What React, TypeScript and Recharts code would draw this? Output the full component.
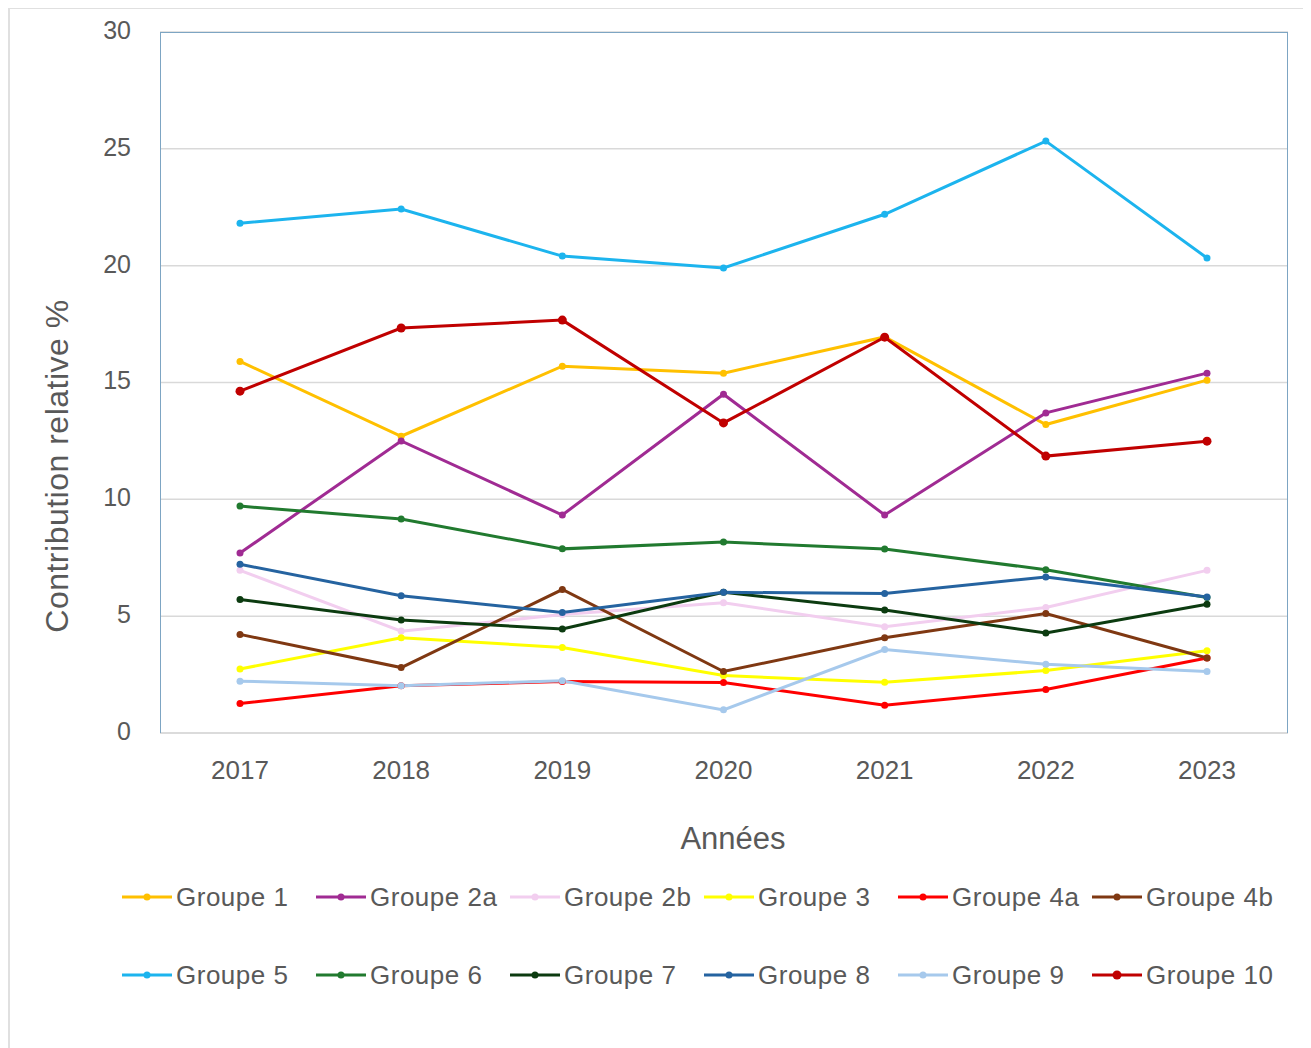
import React from "react";
import { LineChart, Line, XAxis, YAxis, CartesianGrid } from "recharts";

// values, one array per group
const years = ["2017", "2018", "2019", "2020", "2021", "2022", "2023"];
const groupe1 = [15.9, 12.7, 15.7, 15.4, 16.95, 13.2, 15.1];
const groupe2a = [7.7, 12.5, 9.33, 14.5, 9.33, 13.7, 15.4];
const groupe2b = [6.96, 4.36, 5.07, 5.57, 4.55, 5.37, 6.96];
const groupe3 = [2.74, 4.08, 3.66, 2.46, 2.17, 2.67, 3.52];
const groupe4a = [1.26, 2.02, 2.2, 2.16, 1.19, 1.86, 3.21];
const groupe4b = [4.22, 2.8, 6.14, 2.63, 4.08, 5.11, 3.21];
const groupe5 = [21.82, 22.42, 20.41, 19.9, 22.2, 25.33, 20.33];
const groupe6 = [9.71, 9.16, 7.88, 8.17, 7.87, 6.99, 5.8];
const groupe7 = [5.71, 4.84, 4.45, 6.02, 5.26, 4.28, 5.51];
const groupe8 = [7.22, 5.87, 5.16, 6.02, 5.97, 6.68, 5.82];
const groupe9 = [2.22, 2.02, 2.24, 0.99, 3.57, 2.94, 2.63];
const groupe10 = [14.63, 17.33, 17.67, 13.27, 16.94, 11.85, 12.49];
const yTicks = [0, 5, 10, 15, 20, 25, 30];

const series = [
  { key: "g1", name: "Groupe 1", values: groupe1 },
  { key: "g2a", name: "Groupe 2a", values: groupe2a },
  { key: "g2b", name: "Groupe 2b", values: groupe2b },
  { key: "g3", name: "Groupe 3", values: groupe3 },
  { key: "g4a", name: "Groupe 4a", values: groupe4a },
  { key: "g4b", name: "Groupe 4b", values: groupe4b },
  { key: "g5", name: "Groupe 5", values: groupe5 },
  { key: "g6", name: "Groupe 6", values: groupe6 },
  { key: "g7", name: "Groupe 7", values: groupe7 },
  { key: "g8", name: "Groupe 8", values: groupe8 },
  { key: "g9", name: "Groupe 9", values: groupe9 },
  { key: "g10", name: "Groupe 10", values: groupe10 },
];

const colors: Record<string, string> = {
  g1: "#FFC000",
  g2a: "#A02B93",
  g2b: "#F2CEEF",
  g3: "#FFFF00",
  g4a: "#FF0000",
  g4b: "#7F3812",
  g5: "#1CB4EE",
  g6: "#217A2F",
  g7: "#0C3B10",
  g8: "#2563A0",
  g9: "#A6C9EC",
  g10: "#C00000",
};

const data = years.map((year, i) => {
  const row: Record<string, string | number> = { year };
  series.forEach((s) => (row[s.key] = s.values[i]));
  return row;
});

const FONT = '"Liberation Sans", Arial, Helvetica, sans-serif';
const TEXT = "#595959";
const GRID = "#D9D9D9";
const BORDER = "#7DA5C3";

function Legend() {
  return (
    <div style={{ position: "absolute", left: 114, top: 866, fontFamily: FONT }}>
      {series.map((s, i) => {
        const col = i % 6;
        const row = Math.floor(i / 6);
        const r = s.key === "g10" ? 4.5 : 3.5;
        return (
          <div
            key={s.key}
            style={{
              position: "absolute",
              left: col * 194,
              top: row * 78,
              height: 46,
              display: "flex",
              alignItems: "center",
              whiteSpace: "nowrap",
            }}
          >
            <svg width={50} height={12} style={{ marginRight: 4 }}>
              <line x1={0} y1={6} x2={50} y2={6} stroke={colors[s.key]} strokeWidth={3} />
              <circle cx={25} cy={6} r={r} fill={colors[s.key]} />
            </svg>
            <span style={{ fontSize: 26, color: TEXT, letterSpacing: 0.5 }}>{s.name}</span>
          </div>
        );
      })}
    </div>
  );
}

export default function App() {
  return (
    <div style={{ position: "relative", width: 1298, height: 1040, background: "#fff" }}>
      <div
        style={{
          position: "absolute",
          left: 0,
          top: -1,
          width: 1298,
          height: 1060,
          border: "2px solid #E0E0E0",
          boxSizing: "border-box",
        }}
      />
      <LineChart
        width={1298}
        height={1040}
        data={data}
        margin={{ top: 24, right: 18, left: 0, bottom: 185 }}
        style={{ position: "absolute", left: 0, top: 0, fontFamily: FONT }}
      >
        <CartesianGrid vertical={false} stroke={GRID} strokeWidth={1.5} />
        <XAxis
          dataKey="year"
          height={130}
          padding={{ left: 80, right: 81 }}
          axisLine={{ stroke: GRID, strokeWidth: 1.5 }}
          tickLine={false}
          tickSize={0}
          tickMargin={28}
          tick={{ fontSize: 26, fill: TEXT, fontFamily: FONT }}
          label={{
            content: ({ viewBox }: any) => (
              <text
                x={viewBox.x + viewBox.width / 2 + 9}
                y={viewBox.y + 116}
                textAnchor="middle"
                fontSize={31}
                fill={TEXT}
                fontFamily={FONT}
              >
                Années
              </text>
            ),
          }}
        />
        <YAxis
          width={152}
          domain={[0, 30]}
          ticks={yTicks}
          interval={0}
          axisLine={false}
          tickLine={false}
          tickSize={0}
          tickMargin={29}
          dy={-2}
          tick={{ fontSize: 25, fill: TEXT, fontFamily: FONT }}
          label={{
            content: () => (
              <text
                x={49}
                y={458}
                transform="rotate(-90 49 458)"
                textAnchor="middle"
                dominantBaseline="central"
                fontSize={32}
                letterSpacing={0.5}
                fill={TEXT}
                fontFamily={FONT}
              >
                Contribution relative %
              </text>
            ),
          }}
        />
        {series.map((s) => (
          <Line
            key={s.key}
            dataKey={s.key}
            name={s.name}
            type="linear"
            stroke={colors[s.key]}
            strokeWidth={3}
            dot={{ r: s.key === "g10" ? 4.5 : 3.5, fill: colors[s.key], stroke: colors[s.key], strokeWidth: 0 }}
            activeDot={false}
            isAnimationActive={false}
          />
        ))}
      </LineChart>
      {/* plot area frame: blue on left, top and right */}
      <div
        style={{
          position: "absolute",
          left: 152,
          top: 24,
          width: 1128,
          height: 701,
          borderLeft: `1.5px solid ${BORDER}`,
          borderTop: `1.5px solid ${BORDER}`,
          borderRight: `1.5px solid ${BORDER}`,
          boxSizing: "border-box",
          pointerEvents: "none",
        }}
      />
      <Legend />
    </div>
  );
}
